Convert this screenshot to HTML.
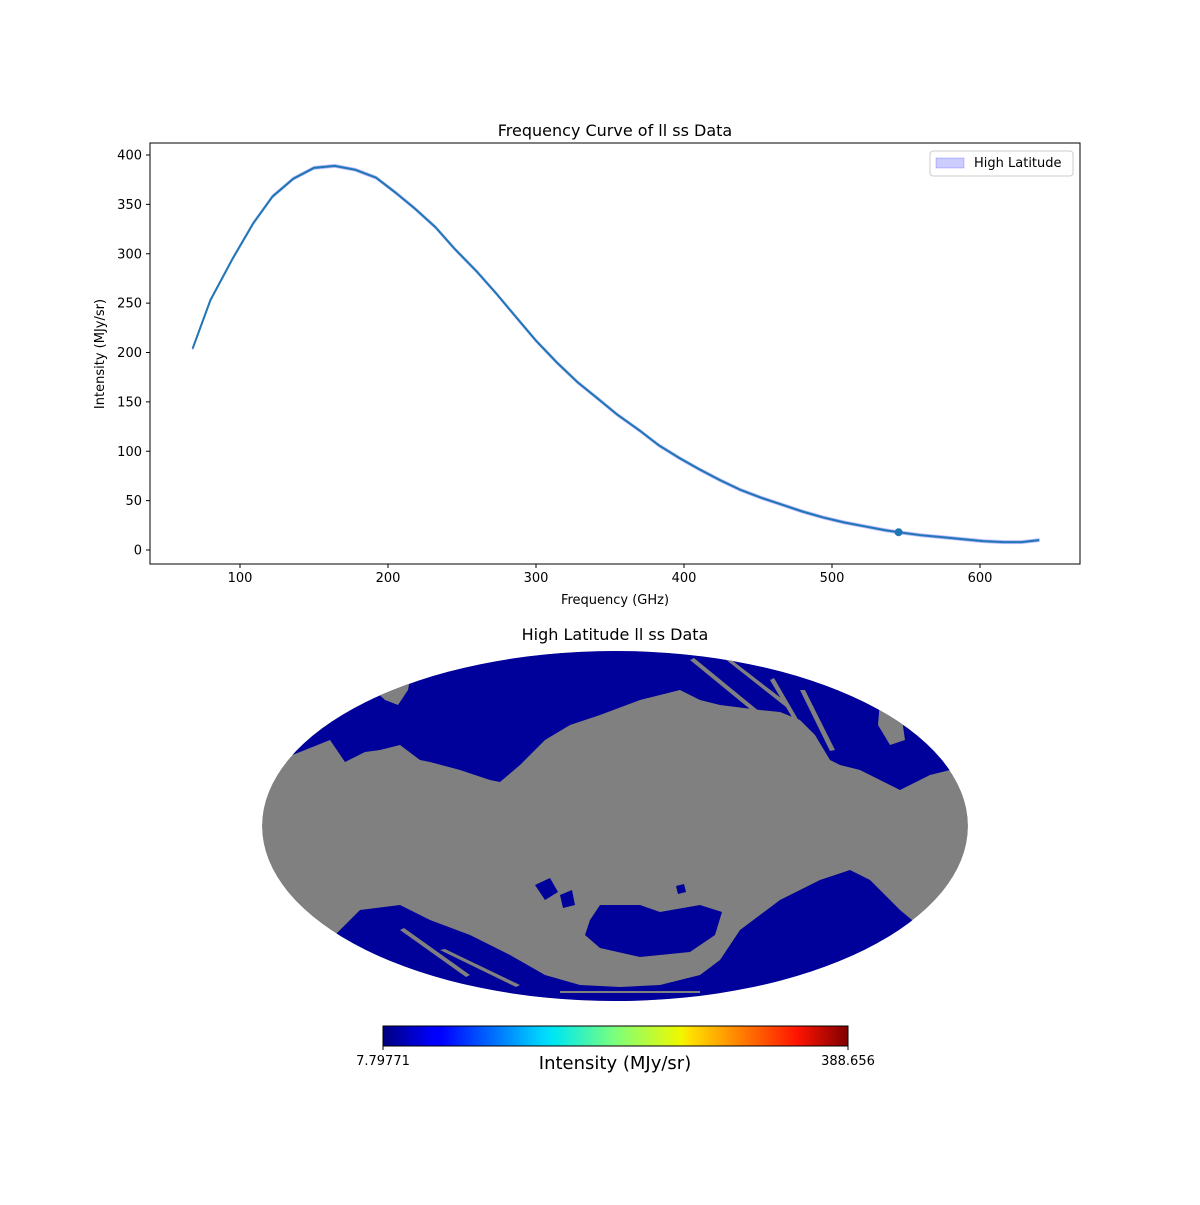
<!DOCTYPE html>
<html><head><meta charset="utf-8"><style>
body{margin:0;background:#fff;font-family:"Liberation Sans","DejaVu Sans",sans-serif}
svg text{font-family:"DejaVu Sans","Liberation Sans",sans-serif}
</style></head><body>
<svg id="fig" width="1200" height="1200" viewBox="0 0 1200 1200" xmlns="http://www.w3.org/2000/svg">
<defs>
<linearGradient id="jet" x1="0" x2="1" y1="0" y2="0">
<stop offset="0" stop-color="#00007f"/><stop offset="0.11" stop-color="#0000ff"/><stop offset="0.125" stop-color="#0000ff"/>
<stop offset="0.34" stop-color="#00d4ff"/><stop offset="0.37" stop-color="#00e8f0"/><stop offset="0.5" stop-color="#7dff7a"/>
<stop offset="0.64" stop-color="#f0f800"/><stop offset="0.66" stop-color="#ffe000"/><stop offset="0.89" stop-color="#ff1400"/>
<stop offset="1" stop-color="#7f0000"/></linearGradient>
<clipPath id="ell"><ellipse cx="615" cy="826" rx="353" ry="175"/></clipPath>
</defs>
<g id="top"></g>
<g id="map" clip-path="url(#ell)">
<ellipse cx="615" cy="826" rx="353" ry="175" fill="#808080"/>
<path fill="#00009a" d="M250,640 L990,640 L990,775 L950,770 L930,775 L900,790 L880,780 L860,770 L840,765 L830,760 L815,735 L800,720 L780,712 L760,710 L720,705 L700,700 L680,690 L640,700 L600,715 L570,725 L545,740 L520,765 L500,782 L490,780 L460,770 L430,762 L420,760 L400,745 L380,750 L365,752 L345,762 L330,740 L300,752 L280,760 L250,765 Z"/>
<path fill="#808080" d="M372,688 L395,672 L412,668 L408,690 L398,705 L385,700 Z"/>
<path fill="#808080" d="M690,660 L694,658 L760,712 L756,714 Z M720,655 L725,655 L790,705 L786,707 Z M770,680 L774,678 L810,740 L806,741 Z M800,690 L805,690 L835,750 L830,751 Z M880,700 L900,705 L905,740 L890,745 L878,725 Z"/>
<path fill="#00009a" d="M250,1010 L990,1010 L990,935 L930,935 L900,910 L870,880 L850,870 L820,880 L780,900 L740,930 L720,960 L700,975 L660,985 L620,987 L580,985 L545,975 L510,955 L470,935 L430,920 L400,905 L360,910 L330,940 L280,945 L250,945 Z"/>
<path fill="#808080" d="M400,930 L404,928 L470,975 L466,977 Z M440,950 L445,949 L520,985 L516,987 Z M560,991 L700,991 L700,993 L560,993 Z"/>
<path fill="#00009a" d="M590,920 L600,905 L640,905 L660,912 L700,905 L722,912 L715,935 L690,952 L640,957 L600,948 L585,935 Z"/>
<path fill="#00009a" d="M535,885 L550,878 L558,892 L545,900 Z M560,895 L572,890 L575,905 L563,908 Z M676,886 L684,884 L686,892 L678,894 Z"/>
</g>
<text x="615" y="640" font-size="16" text-anchor="middle">High Latitude ll ss Data</text>
<g>
<rect x="383" y="1026" width="465" height="20" fill="url(#jet)" stroke="#000" stroke-width="1"/>
<line x1="383" y1="1046" x2="383" y2="1050" stroke="#000"/><line x1="848" y1="1046" x2="848" y2="1050" stroke="#000"/>
<text x="383" y="1065" font-size="13" text-anchor="middle">7.79771</text>
<text x="848" y="1065" font-size="13" text-anchor="middle">388.656</text>
<text x="615" y="1069" font-size="18" text-anchor="middle">Intensity (MJy/sr)</text>
</g>
</svg>
<script>
const freqs=[68,80,95,109,122,136,150,164,178,192,205,218,232,245,260,273,287,300,314,328,342,355,370,383,397,410,424,438,452,466,480,494,508,522,536,545,560,574,588,602,616,628,640];
const intensity=[204,253,295,331,358,376,387,389,385,377,362,346,327,305,282,260,235,212,190,170,153,137,121,106,93,82,71,61,53,46,39,33,28,24,20,18,15,13,11,9,8,8,10];
const xTicks=[100,200,300,400,500,600];
const yTicks=[0,50,100,150,200,250,300,350,400];
const markerFreq=[545];
const markerVal=[18];
const NS='http://www.w3.org/2000/svg';
const L=150,R=1080,T=143,B=564;
function xs(v){return 240+(v-100)*1.48;}
function ys(v){return 550-v*0.9875;}
const g=document.getElementById('top');
function mk(t,a,p){const e=document.createElementNS(NS,t);for(const k in a)e.setAttribute(k,a[k]);(p||g).appendChild(e);return e;}
let up=freqs.map((f,i)=>xs(f)+','+ys(intensity[i]+1.5)).join(' ');
let dn=freqs.map((f,i)=>xs(f)+','+ys(intensity[i]-1.5)).reverse().join(' ');
const band=mk('polygon',{points:up+' '+dn,fill:'#0000ff','fill-opacity':0.2,stroke:'#0000ff','stroke-opacity':0.2});


const line=mk('polyline',{points:freqs.map((f,i)=>xs(f)+','+ys(intensity[i])).join(' '),fill:'none',stroke:'#1f77b4','stroke-width':2});


markerFreq.forEach((f,i)=>{const c=mk('circle',{cx:xs(f),cy:ys(markerVal[i]),r:4,fill:'#1f77b4'});

});
const fr=mk('rect',{x:L,y:T,width:R-L,height:B-T,fill:'none',stroke:'#000','stroke-width':1});


xTicks.forEach(v=>{mk('line',{x1:xs(v),x2:xs(v),y1:B,y2:B+4,stroke:'#000'});
const t=mk('text',{x:xs(v),y:B+18,'font-size':13,'text-anchor':'middle'});t.textContent=v;

});
yTicks.forEach(v=>{mk('line',{x1:L-4,x2:L,y1:ys(v),y2:ys(v),stroke:'#000'});
const t=mk('text',{x:L-8,y:ys(v)+4.5,'font-size':13,'text-anchor':'end'});t.textContent=v;

});
let t=mk('text',{x:615,y:136,'font-size':16,'text-anchor':'middle'});t.textContent='Frequency Curve of ll ss Data';


t=mk('text',{x:615,y:604,'font-size':13,'text-anchor':'middle'});t.textContent='Frequency (GHz)';


t=mk('text',{x:104,y:354,'font-size':13,'text-anchor':'middle',transform:'rotate(-90 104 354)'});t.textContent='Intensity (MJy/sr)';


const lg=mk('g',{});


mk('rect',{x:930,y:151,width:143,height:25,rx:3,fill:'#fff',stroke:'#ccc'},lg);
mk('rect',{x:936,y:158,width:28,height:10,fill:'#0000ff','fill-opacity':0.2,stroke:'#0000ff','stroke-opacity':0.2},lg);
t=mk('text',{x:974,y:167,'font-size':13},lg);t.textContent='High Latitude';


</script>
</body></html>
